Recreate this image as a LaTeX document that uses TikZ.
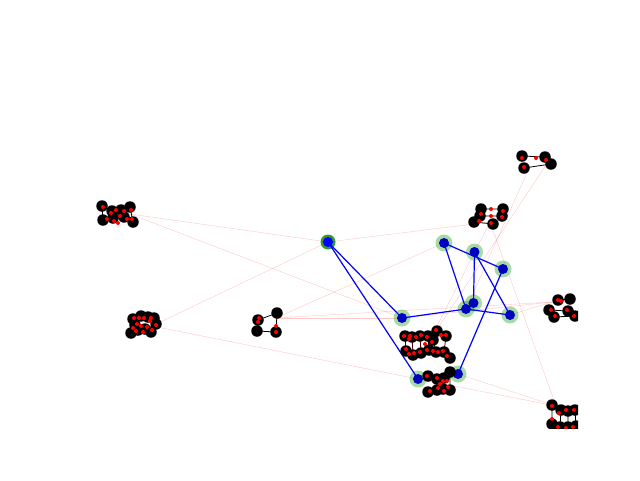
\documentclass[tikz,border=0pt]{standalone}
\begin{document}
\begin{tikzpicture}[x=1pt,y=-1pt,
  pinkedge/.style={draw=red,opacity=0.22,line width=0.4pt},
  blueedge/.style={draw=blue,line width=1.2pt},
  halo/.style={circle,fill=green!60!black,fill opacity=0.35,minimum size=17pt,inner sep=0pt},
  bnode/.style={circle,fill=blue!75!black,minimum size=10pt,inner sep=0pt},
  knode/.style={circle,fill=black,minimum size=11.5pt,inner sep=0pt},
  rdot/.style={circle,fill=red,minimum size=4pt,inner sep=0pt},
  kedge/.style={draw=black,line width=0.8pt}]
\useasboundingbox (0,0) rectangle (640,480);
\begin{scope}
\clip (80,58) rectangle (578,428);
\coordinate (c1) at (130,214);
\coordinate (c2) at (152,326);
\coordinate (c3) at (276,318);
\coordinate (c6) at (530,166);
\coordinate (c6b) at (548,162);
\coordinate (c7) at (490,222);
\coordinate (c8) at (552,302);
\coordinate (c9) at (556,406);
\coordinate (c4) at (430,340);
\coordinate (A) at (328,242);
\coordinate (B) at (444,243);
\coordinate (C) at (474.5,252);
\coordinate (D) at (503,269);
\coordinate (E) at (402,318);
\coordinate (F) at (466,309);
\coordinate (G) at (473.5,303);
\coordinate (H) at (510,315);
\coordinate (I) at (418,379);
\coordinate (J) at (458,374);
% pink inter-cluster edges
\draw[pinkedge] (c1) -- (A);
\draw[pinkedge] (c1) -- (E);
\draw[pinkedge] (c2) -- (A);
\draw[pinkedge] (c2) -- (I);
\draw[pinkedge] (c3) -- (B);
\draw[pinkedge] (c3) -- (E);
\draw[pinkedge] (c3) -- (c8);
\draw[pinkedge] (c6) -- (F);
\draw[pinkedge] (c6b) -- (c4);
\draw[pinkedge] (c7) -- (c9);
\draw[pinkedge] (c7) -- (A);
\draw[pinkedge] (c9) -- (J);
\draw[pinkedge] (c9) -- (I);
\draw[pinkedge] (c8) -- (H);
\draw[pinkedge] (c7) -- (c4);
\draw[pinkedge] (E) -- (c8);
% halos
\foreach \p in {B,C,D,E,F,G,H,I,J} \node[halo] (h\p) at (\p) {};
\node[circle,fill=green!50!black,minimum size=15pt,inner sep=0pt,opacity=0.8] (hA) at (A) {};
% blue edges
\draw[blueedge] (A) -- (E);
\draw[blueedge] (A) -- (I);
\draw[blueedge] (E) -- (F);
\draw[blueedge] (B) -- (F);
\draw[blueedge] (B) -- (D);
\draw[blueedge] (C) -- (G);
\draw[blueedge] (C) -- (H);
\draw[blueedge] (D) -- (J);
\draw[blueedge] (F) -- (H);
% blue nodes
\foreach \p in {B,C,D,E,F,G,H,I,J} \node[bnode] (n\p) at (\p) {};
\node[circle,fill=blue,minimum size=10pt,inner sep=0pt] (nA) at (A) {};
% cluster 1
\foreach \n/\x/\y in {a/102/206,b/112/211,c/121/210,d/130/207,e/103/220,f/113/218,g/124/217,h/133/222}
  \coordinate (k1\n) at (\x,\y);
\draw[kedge] (k1a)--(k1b)--(k1c)--(k1d) (k1e)--(k1f)--(k1g)--(k1h) (k1b)--(k1f) (k1d)--(k1h) (k1a)--(k1e);
\foreach \n in {a,...,h} \node[knode] (K1\n) at (k1\n) {};
\foreach \x/\y in {103/207,111/213,116/210,124/211,131/210,107/219,114/221,120/216,127/219,132/219,118/223} \node[rdot] at (\x,\y) {};
% cluster 2
\foreach \n/\x/\y in {a/133/319,b/141/316,c/148/317,d/154/318,e/156/324,f/131/333,g/138/330,h/145/329,i/151/332,j/135/325}
  \coordinate (k2\n) at (\x,\y);
\draw[kedge] (k2a)--(k2b)--(k2c)--(k2d)--(k2e) (k2f)--(k2g)--(k2h)--(k2i) (k2a)--(k2j)--(k2f);
\foreach \n in {a,...,j} \node[knode] (K2\n) at (k2\n) {};
\foreach \x/\y in {134/318,139/318,144/318,151/318,156/325,133/328,137/324,141/326,147/327,150/321,136/331,143/332,152/330} \node[rdot] at (\x,\y) {};
% cluster 3
\coordinate (k3a) at (258,320); \coordinate (k3b) at (277,313);
\coordinate (k3c) at (257,331); \coordinate (k3d) at (276,332);
\draw[kedge] (k3a)--(k3b)--(k3d)--(k3c)--(k3a);
\foreach \n in {a,b,c,d} \node[knode] (K3\n) at (k3\n) {};
\node[rdot] at (258,322) {}; \node[rdot] at (259,318) {}; \node[rdot] at (276,326) {}; \node[rdot] at (276,332) {};
% cluster 4
\foreach \n/\x/\y in {a/405/336,b/412/337,c/420/336,d/428/336,e/437/331,f/446/336,g/406/351,h/413/355,i/421/353,j/429/350,k/436/352,l/444/352,m/450/358,n/433/340}
  \coordinate (k4\n) at (\x,\y);
\draw[kedge,draw=black!70!red] (k4a)--(k4g) (k4b)--(k4h) (k4c)--(k4i) (k4d)--(k4j) (k4n)--(k4k) (k4f)--(k4l) (k4a)--(k4b)--(k4c)--(k4d) (k4g)--(k4h)--(k4i)--(k4j)--(k4k)--(k4l)--(k4m) (k4e)--(k4f);
\foreach \n in {a,...,n} \node[knode] (K4\n) at (k4\n) {};
\foreach \x/\y in {404/336,410/336,416/337,421/335,427/337,436/330,441/335,446/335,432/342,406/349,409/354,414/353,420/352,427/350,433/351,438/352,443/351,447/356,409/339,425/344} \node[rdot] at (\x,\y) {};
% cluster 5
\foreach \n/\x/\y in {a/428/376,b/437/379,c/444/378,d/450/372,e/428/392,f/437/390,g/443/389,h/450/390}
  \coordinate (k5\n) at (\x,\y);
\draw[kedge] (k5a)--(k5b)--(k5c)--(k5d) (k5e)--(k5f)--(k5g)--(k5h) (k5c)--(k5g) (k5d)--(k5h);
\foreach \n in {a,...,h} \node[knode] (K5\n) at (k5\n) {};
\foreach \x/\y in {427/376,437/378,443/381,440/384,447/381,430/391,438/388,444/391,448/387} \node[rdot] at (\x,\y) {};
% cluster 6
\coordinate (k6a) at (522,156); \coordinate (k6b) at (545,157);
\coordinate (k6c) at (551,164); \coordinate (k6d) at (524,168);
\draw[kedge] (k6a)--(k6b)--(k6c)--(k6d);
\foreach \n in {a,b,c,d} \node[knode] (K6\n) at (k6\n) {};
\node[rdot] at (522,158) {}; \node[rdot] at (536,158) {}; \node[rdot] at (546,160) {}; \node[rdot] at (524,167) {};
% cluster 7
\coordinate (k7a) at (481,209); \coordinate (k7b) at (503,209);
\coordinate (k7c) at (480,216); \coordinate (k7d) at (502,216);
\coordinate (k7e) at (474,222); \coordinate (k7f) at (493,224);
\draw[kedge] (k7a)--(k7b) (k7c)--(k7d) (k7e)--(k7f) (k7b)--(k7d);
\foreach \n in {a,...,f} \node[knode] (K7\n) at (k7\n) {};
\node[rdot] at (491,209) {}; \node[rdot] at (491,216) {}; \node[rdot] at (503,211) {};
\node[rdot] at (502,217) {}; \node[rdot] at (481,214) {}; \node[rdot] at (479,221) {}; \node[rdot] at (491,223) {};
% cluster 8
\coordinate (k8a) at (558,300); \coordinate (k8b) at (570,299);
\coordinate (k8c) at (549,310); \coordinate (k8d) at (568,311);
\coordinate (k8e) at (554,317); \coordinate (k8f) at (575,316);
\draw[kedge] (k8a)--(k8b) (k8c)--(k8d) (k8e)--(k8f) (k8d)--(k8f);
\foreach \n in {a,...,f} \node[knode] (K8\n) at (k8\n) {};
\node[rdot] at (558,300) {}; \node[rdot] at (561,301) {}; \node[rdot] at (551,310) {};
\node[rdot] at (567,310) {}; \node[rdot] at (555,316) {}; \node[rdot] at (574,316) {};
% cluster 9
\foreach \n/\x/\y in {a/552/405,b/561/410,c/568/411,d/575/410,e/552/424,f/560/427,g/568/427,h/576/426}
  \coordinate (k9\n) at (\x,\y);
\draw[kedge] (k9a)--(k9b)--(k9c)--(k9d) (k9e)--(k9f)--(k9g)--(k9h) (k9b)--(k9f) (k9c)--(k9g) (k9d)--(k9h) (k9a)--(k9e);
\foreach \n in {a,...,h} \node[knode] (K9\n) at (k9\n) {};
\node[rdot] at (552,406) {}; \node[rdot] at (559,413) {}; \node[rdot] at (566,410) {}; \node[rdot] at (574,410) {};
\node[rdot] at (552,419) {}; \node[rdot] at (558,427) {}; \node[rdot] at (566,428) {}; \node[rdot] at (573,427) {};
\end{scope}
\end{tikzpicture}
\end{document}
